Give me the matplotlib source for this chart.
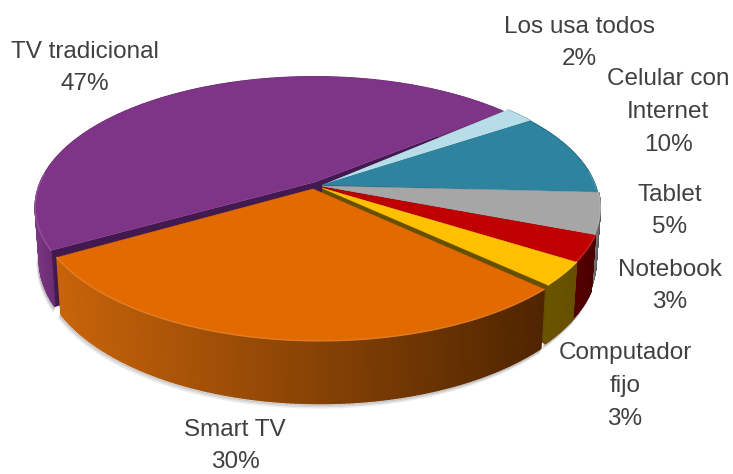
import numpy as np
import matplotlib
matplotlib.use("Agg")
import matplotlib.pyplot as plt
from matplotlib.colors import to_rgb

# Data: category, printed label, share read from the drawn slice (%)
categories = ["Los usa todos", "Celular con\nInternet", "Tablet", "Notebook",
              "Computador\nfijo", "Smart TV", "TV tradicional"]
percent_labels = ["2%", "10%", "5%", "3%", "3%", "30%", "47%"]
drawn_shares = [2.06, 10.2, 5.1, 3.2, 2.9, 29.4, 47.1]

# Styles
top_colors = ["#B7DEE8", "#2E839E", "#A6A6A6", "#C00000", "#FFC000", "#E26A00", "#7F3587"]
wall_left = ["#8FB0B8", "#1F5F73", "#8A8A8A", "#560000", "#6B5400", "#C8640A", "#7A3583"]
wall_right = ["#8FB0B8", "#1F5F73", "#555555", "#4A0000", "#665000", "#4F2500", "#6B2D72"]
cut_colors = ["#7F9CA3", "#123F4E", "#666666", "#500000", "#665000", "#4F2500", "#431A4F"]
arc_shift = [(0, 0), (0, 0), (0, 0), (0, 0), (0, 0), (0, 1), (-6, 0)]
arc_scale = [0.989, 0.986, 0.99, 0.995, 0.996, 1.0, 0.985]
apexes = [(323, 185), (322, 185), (322, 186), (322, 187), (322, 188), (313, 189), (315, 182)]
start_trim = [0, 0, 0, 0, 0, 1.4, 2.2]   # degrees cut off the leading edge
end_trim = [0, 0, 0, 0, 0, 0, -0.7]
label_pos = [(579, 43), (668, 112), (670, 211), (670, 286), (625, 386), (235, 446), (85, 68)]

CX, CY, A, B, K, DEPTH = 320.0, 185.0, 279.0, 128.6, 0.17, 52.0
START = 40.9


def project(u, v):
    w = 1 - K * v
    return A * u / w, B * v / w, w


fig = plt.figure(figsize=(7.33, 4.74), dpi=100)
ax = fig.add_axes([0, 0, 1, 1])
ax.set_xlim(0, 733)
ax.set_ylim(474, 0)
ax.axis("off")

total = sum(drawn_shares)
ends = START - np.cumsum(drawn_shares) / total * 360
starts = np.concatenate([[START], ends[:-1]])

# painter's order: back slices first, orange last; purple at the very back
order = [6, 0, 1, 2, 3, 4, 5]
for i in order:
    sx, sy = arc_shift[i]
    t = np.radians(np.linspace(starts[i] - start_trim[i], ends[i] + end_trim[i], 160))
    u, v = np.cos(t), -np.sin(t)
    px, py, w = project(u, v)
    x = CX + sx + px * arc_scale[i]
    y = CY + sy + py * arc_scale[i]
    bx = CX + sx + (x - CX - sx) * 0.985
    by = y + DEPTH / w
    ax_, ay_ = apexes[i]
    zi = 2 + order.index(i) * 3

    # soft shadow under the outer wall
    front = v > -0.1
    if front.any():
        for grow, alpha in [(4, 0.10), (2.5, 0.16), (1.2, 0.22)]:
            ax.plot(bx[front] - grow * 0.4, by[front] + grow, color="#555555", alpha=alpha,
                    lw=1.6, zorder=1, solid_capstyle="round")

    # cut faces
    for k in (0, -1):
        ax.fill([ax_, x[k], bx[k], ax_], [ay_, y[k], by[k], ay_ + DEPTH],
                color=cut_colors[i], lw=0, zorder=zi)

    # outer wall, shaded across the screen
    c0, c1 = np.array(to_rgb(wall_left[i])), np.array(to_rgb(wall_right[i]))
    xmin = x[front].min() if front.any() else x.min()
    xmax = x[front].max() if front.any() else x.max()
    span = max(xmax - xmin, 1)
    for j in range(len(x) - 1):
        f = np.clip((x[j] - xmin) / span, 0, 1)
        col = c0 + (c1 - c0) * f
        ax.fill([x[j], x[j + 1], bx[j + 1], bx[j]], [y[j], y[j + 1], by[j + 1], by[j]],
                color=col, lw=1.0, zorder=zi)

    # top face
    ax.fill(np.r_[ax_, x], np.r_[ay_, y], color=top_colors[i], lw=0.4, zorder=zi + 1)
    # rim highlight
    rim = np.array(to_rgb(top_colors[i])) * 0.75 + 0.25
    ax.plot(x[front], y[front], color=rim, lw=1.0, alpha=0.6, zorder=zi + 2)

for cat, pct, (lx, ly) in zip(categories, percent_labels, label_pos):
    ax.text(lx, ly, cat + "\n" + pct, ha="center", va="center", color="#404040",
            fontsize=17.5, linespacing=1.62,
            family=["Liberation Sans Narrow", "Liberation Sans"], zorder=50)

fig.savefig("out.png", dpi=100)
